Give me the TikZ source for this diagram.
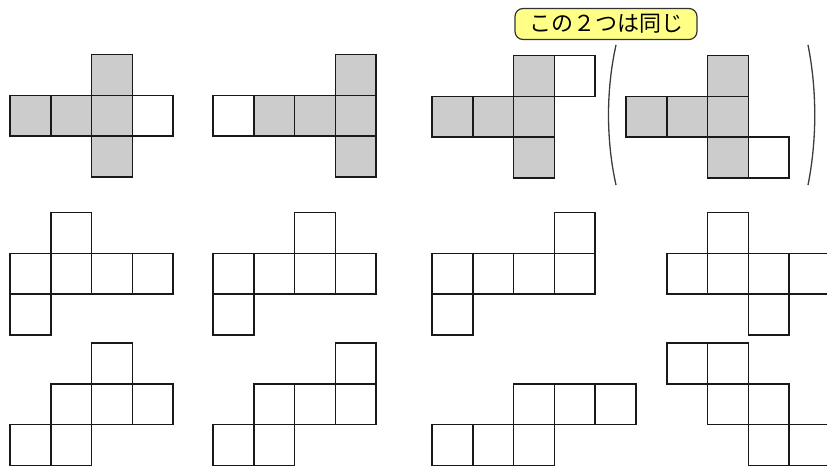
\documentclass[tikz,border=0pt]{standalone}
\usepackage{fontspec}
\newfontfamily\jpfont{Noto Sans CJK JP}
\definecolor{cellgray}{RGB}{204,204,204}
\definecolor{labelfill}{RGB}{255,255,136}
\definecolor{parencol}{RGB}{60,60,60}
\newcommand\netcells[3]{%
  \foreach \c/\r/\f in {#3}
    \draw[cellbox,fill=\f] ({#1+\c*40.8},{#2+\r*40.8}) rectangle ++(40.8,40.8);}
\begin{document}
\begin{tikzpicture}[x=1pt,y=-1pt,
  cellbox/.style={draw=black!90,line width=1.5pt,line join=miter},
  labelbox/.style={draw=black!80,line width=1.2pt,fill=labelfill,rounded corners=8pt,
    minimum width=182pt,minimum height=31pt,inner sep=0pt,
    font=\jpfont\fontsize{22}{24}\selectfont},
  paren/.style={draw=parencol,line width=1.3pt}]
\useasboundingbox (0,0) rectangle (827,468);
% top row
\netcells{10}{54.5}{2/0/cellgray,0/1/cellgray,1/1/cellgray,2/1/cellgray,3/1/white,2/2/cellgray}
\netcells{213}{54.5}{3/0/cellgray,0/1/white,1/1/cellgray,2/1/cellgray,3/1/cellgray,3/2/cellgray}
\netcells{432}{55.5}{2/0/cellgray,3/0/white,0/1/cellgray,1/1/cellgray,2/1/cellgray,2/2/cellgray}
\netcells{626}{55.5}{2/0/cellgray,0/1/cellgray,1/1/cellgray,2/1/cellgray,2/2/cellgray,3/2/white}
% middle row
\netcells{10}{212.5}{1/0/white,0/1/white,1/1/white,2/1/white,3/1/white,0/2/white}
\netcells{213}{212.5}{2/0/white,0/1/white,1/1/white,2/1/white,3/1/white,0/2/white}
\netcells{432}{212.5}{3/0/white,0/1/white,1/1/white,2/1/white,3/1/white,0/2/white}
\netcells{626}{212.5}{2/0/white,1/1/white,2/1/white,3/1/white,4/1/white,3/2/white}
% bottom row
\netcells{10}{343}{2/0/white,1/1/white,2/1/white,3/1/white,0/2/white,1/2/white}
\netcells{213}{343}{3/0/white,1/1/white,2/1/white,3/1/white,0/2/white,1/2/white}
\netcells{432}{343}{2/1/white,3/1/white,4/1/white,0/2/white,1/2/white,2/2/white}
\netcells{626}{343}{1/0/white,2/0/white,2/1/white,3/1/white,3/2/white,4/2/white}
% label
\node[labelbox] (same) at (606,24) {この２つは同じ};
% parentheses
\draw[paren] (616,45) .. controls (606,90) and (606,140) .. (616,185);
\draw[paren] (808,45) .. controls (817,90) and (817,140) .. (808,185);
\end{tikzpicture}
\end{document}
